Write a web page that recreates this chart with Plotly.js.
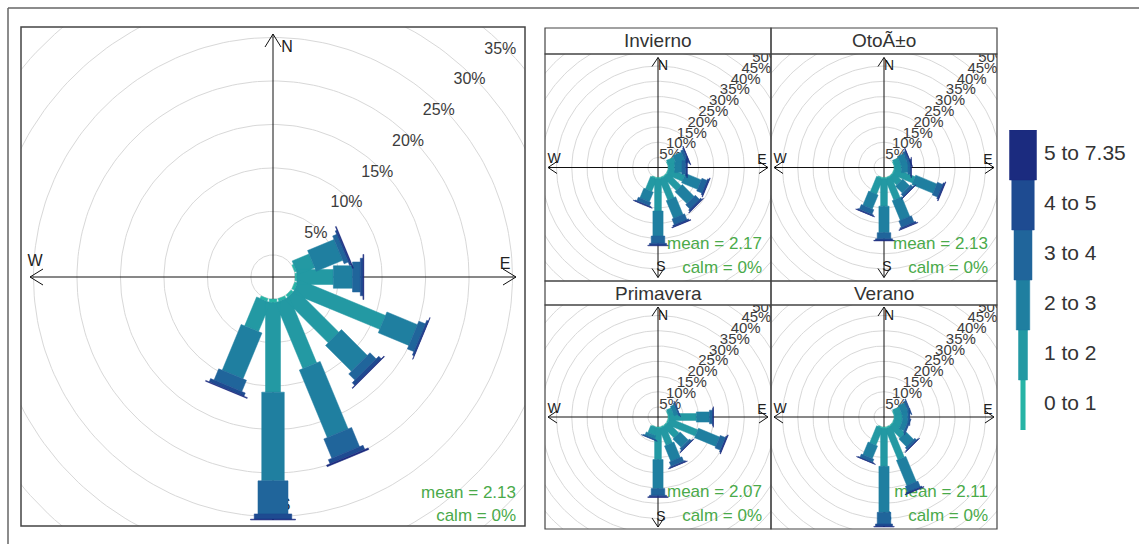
<!DOCTYPE html>
<html><head><meta charset="utf-8">
<script src="https://cdn.plot.ly/plotly-3.0.1.min.js"></script>
<style>html,body{margin:0;padding:0;background:#fff}#chart{width:1139px;height:544px}</style>
</head><body><div id="chart"></div>
<script>
// ---------------- DATA ----------------
const directions = [67.5, 90, 112.5, 135, 157.5, 180, 202.5]; // degrees from N (clockwise)
const hsClasses = ["0 to 1", "1 to 2", "2 to 3", "3 to 4", "4 to 5", "5 to 7.35"];
const classColors = ["#27b4a6", "#2399a3", "#1f7fa0", "#20659b", "#1e4b91", "#1b2b7f"];
const hsTitle = "Hs [m]";
const ringPercents = [0, 5, 10, 15, 20, 25, 30, 35, 40, 45, 50, 55, 60, 65, 70];
const dirLetters = ["N", "E", "S", "W"];

// frequency (%) rows = directions, columns = Hs classes
const freqAll = [
  [0.2, 2.1, 3.3, 0.5, 0.2, 0.1],
  [0.2, 4.2, 2.2, 0.9, 0.3, 0.1],
  [0.3, 10.8, 3.8, 0.8, 0.2, 0.05],
  [0.3, 7.0, 4.2, 1.0, 0.4, 0.1],
  [0.3, 8.2, 8.4, 2.4, 0.5, 0.2],
  [0.4, 10.3, 10.2, 3.8, 0.6, 0.1],
  [0.3, 3.6, 5.7, 1.4, 0.4, 0.1]
];
const freqInvierno = [
  [0.2, 2.5, 3.0, 0.9, 0.3, 0.1],
  [0.2, 2.0, 2.4, 1.2, 0.4, 0.1],
  [0.3, 5.5, 5.6, 1.8, 0.5, 0.2],
  [0.3, 6.0, 5.5, 1.9, 0.6, 0.2],
  [0.3, 7.5, 6.3, 2.0, 0.5, 0.2],
  [0.4, 10.6, 8.2, 2.4, 0.6, 0.2],
  [0.3, 4.5, 3.4, 1.2, 0.3, 0.1]
];
const freqOtono = [
  [0.2, 2.0, 2.2, 0.8, 0.2, 0.1],
  [0.2, 2.2, 2.2, 0.8, 0.2, 0.1],
  [0.3, 7.0, 7.5, 1.8, 0.5, 0.2],
  [0.2, 3.5, 3.2, 1.0, 0.2, 0.1],
  [0.3, 7.5, 7.0, 2.2, 0.5, 0.2],
  [0.4, 9.0, 8.7, 2.0, 0.5, 0.2],
  [0.3, 5.5, 5.0, 1.6, 0.4, 0.1]
];
const freqPrimavera = [
  [0.2, 1.6, 1.3, 0.4, 0.1, 0.0],
  [0.3, 9.0, 4.3, 1.0, 0.2, 0.1],
  [0.4, 10.0, 7.5, 1.8, 0.4, 0.2],
  [0.3, 5.0, 3.8, 0.8, 0.2, 0.1],
  [0.3, 6.0, 5.5, 1.5, 0.4, 0.1],
  [0.4, 10.3, 9.5, 2.2, 0.5, 0.2],
  [0.2, 2.5, 1.1, 0.3, 0.1, 0.0]
];
const freqVerano = [
  [0.2, 2.3, 2.2, 0.6, 0.2, 0.0],
  [0.2, 2.5, 1.8, 0.5, 0.2, 0.0],
  [0.2, 2.6, 1.7, 0.5, 0.2, 0.0],
  [0.3, 5.0, 3.5, 0.8, 0.2, 0.1],
  [0.4, 11.0, 9.0, 2.0, 0.4, 0.2],
  [0.5, 12.4, 15.1, 3.8, 0.8, 0.2],
  [0.3, 6.0, 4.5, 1.1, 0.2, 0.1]
];
const panelTitles = ["Invierno", "OtoÃ±o", "Primavera", "Verano"];
const panelMeans = ["2.17", "2.13", "2.07", "2.11"];
const panelCalms = ["0%", "0%", "0%", "0%"];
const allMean = "2.13";
const allCalm = "0%";

// ---------------- LAYOUT GEOMETRY (pixels) ----------------
const W = 1139, H = 544;
const mainBox = {x0: 21, x1: 525, y0: 27, y1: 526, cx: 273, cy: 277, axisPx: 243,
  arrowLen: 13, arrowHalf: 8, labInset: 5, pctFont: 16, letterFont: 16,
  letters: [[14, 229], [232, 12], [12, -229], [-238, 15]], meanUp: 32, calmUp: 9};
const panelBoxes = [
  {x0: 545, x1: 771, y0: 54, y1: 281},
  {x0: 771, x1: 997, y0: 54, y1: 281},
  {x0: 545, x1: 771, y0: 305, y1: 529},
  {x0: 771, x1: 997, y0: 305, y1: 529}
];
const stripBoxes = [
  {x0: 545, x1: 771, y0: 28, y1: 54},
  {x0: 771, x1: 997, y0: 28, y1: 54},
  {x0: 545, x1: 771, y0: 281, y1: 305},
  {x0: 771, x1: 997, y0: 281, y1: 305}
];
const panelStyle = {axisPx: 110, arrowLen: 9, arrowHalf: 6, labInset: 8, pctFont: 15, letterFont: 14,
  letters: [[5, 101], [104, 7], [3, -100], [-104, 8]], meanUp: 36, calmUp: 12};

const traces = [];
const layout = {
  width: W, height: H, margin: {l: 0, r: 0, t: 0, b: 0},
  paper_bgcolor: "#ffffff", plot_bgcolor: "rgba(0,0,0,0)",
  showlegend: false, shapes: [], annotations: [],
  font: {family: "Liberation Sans, Arial, sans-serif", color: "#333"}
};

function totals(f) { return f.map(r => r.reduce((a, b) => a + b, 0)); }

function setAxes(idx, box, cx, cy, ppu) {
  const xs = idx === 1 ? "xaxis" : "xaxis" + idx;
  const ys = idx === 1 ? "yaxis" : "yaxis" + idx;
  const common = {visible: false, showgrid: false, zeroline: false, fixedrange: true};
  layout[xs] = Object.assign({}, common, {
    domain: [box.x0 / W, box.x1 / W],
    range: [(box.x0 - cx) / ppu, (box.x1 - cx) / ppu]
  });
  layout[ys] = Object.assign({}, common, {
    domain: [1 - box.y1 / H, 1 - box.y0 / H],
    range: [-(box.y1 - cy) / ppu, (cy - box.y0) / ppu]
  });
}

function buildRose(freq, idx, box, cx, cy, M, st, meanTxt, calmTxt) {
  const xa = idx === 1 ? "x" : "x" + idx, ya = idx === 1 ? "y" : "y" + idx;
  const off = 0.1 * M, R = M + off;
  const ppu = st.axisPx / R;
  setAxes(idx, box, cx, cy, ppu);
  const base = {xaxis: xa, yaxis: ya, hoverinfo: "skip"};
  // rings
  const rx = [], ry = [];
  ringPercents.forEach(p => {
    const r = off + p;
    for (let k = 0; k <= 240; k++) {
      const a = k / 240 * 2 * Math.PI;
      rx.push(r * Math.cos(a)); ry.push(r * Math.sin(a));
    }
    rx.push(null); ry.push(null);
  });
  traces.push(Object.assign({type: "scatter", mode: "lines", x: rx, y: ry, connectgaps: false,
    line: {color: "#d8d8d8", width: 1}}, base));
  // axis lines with open arrow heads
  const a = st.arrowLen / ppu, h = st.arrowHalf / ppu;
  const axX = [-R, R, null, 0, 0, null, R - a, R, R - a, null, -R + a, -R, -R + a, null, -h, 0, h, null, -h, 0, h];
  const axY = [0, 0, null, -R, R, null, h, 0, -h, null, h, 0, -h, null, R - a, R, R - a, null, -R + a, -R, -R + a];
  // direction letters (under the paddles)
  traces.push(Object.assign({type: "scatter", mode: "text",
    x: st.letters.map(p => p[0] / ppu), y: st.letters.map(p => p[1] / ppu),
    text: dirLetters, textposition: "middle center", cliponaxis: true,
    textfont: {size: st.letterFont, color: "#222"}}, base));
  traces.push(Object.assign({type: "scatter", mode: "lines", x: axX, y: axY, connectgaps: false,
    line: {color: "#111", width: 1}}, base));
  // percent labels along 45 deg
  const lp = ringPercents.filter(p => p > 0);
  const lr = lp.map(p => (off + p) - st.labInset / ppu);
  traces.push(Object.assign({type: "scatter", mode: "text",
    x: lr.map(r => r * Math.SQRT1_2), y: lr.map(r => r * Math.SQRT1_2),
    text: lp.map(p => p + "%"), textposition: "middle center", cliponaxis: true,
    textfont: {size: st.pctFont, color: "#3c3c3c"}}, base));
  // mean / calm text
  const xr = layout[idx === 1 ? "xaxis" : "xaxis" + idx].range;
  const yr = layout[idx === 1 ? "yaxis" : "yaxis" + idx].range;
  traces.push(Object.assign({type: "scatter", mode: "text",
    x: [xr[1] - 9 / ppu, xr[1] - 9 / ppu],
    y: [yr[0] + st.meanUp / ppu, yr[0] + st.calmUp / ppu],
    text: ["mean = " + meanTxt, "calm = " + calmTxt], textposition: "middle left", cliponaxis: false,
    textfont: {size: 17, color: "#4aaa4a"}}, base));
  // paddles
  const c = 0.034 * M;
  hsClasses.forEach((cls, j) => {
    const px = [], py = [];
    directions.forEach((d, i) => {
      const v = freq[i][j];
      if (!(v > 0)) return;
      let start = 0;
      for (let k = 0; k < j; k++) start += freq[i][k];
      const r1 = off + start, r2 = r1 + v, hw = c * (j + 1) / 2;
      const t = d * Math.PI / 180, ux = Math.sin(t), uy = Math.cos(t), nx = Math.cos(t), ny = -Math.sin(t);
      px.push(r1 * ux + hw * nx, r2 * ux + hw * nx, r2 * ux - hw * nx, r1 * ux - hw * nx, r1 * ux + hw * nx, null);
      py.push(r1 * uy + hw * ny, r2 * uy + hw * ny, r2 * uy - hw * ny, r1 * uy - hw * ny, r1 * uy + hw * ny, null);
    });
    traces.push(Object.assign({type: "scatter", mode: "lines", x: px, y: py, fill: "toself",
      fillcolor: classColors[j], connectgaps: false, line: {color: classColors[j], width: 0.5}, name: cls}, base));
  });
}

// main rose (all data)
const Mmain = Math.max(...totals(freqAll));
buildRose(freqAll, 1, mainBox, mainBox.cx, mainBox.cy, Mmain, mainBox, allMean, allCalm);

// seasonal panels share a common scale
const panelFreqs = [freqInvierno, freqOtono, freqPrimavera, freqVerano];
const Mpanel = Math.max(...panelFreqs.map(f => Math.max(...totals(f))));
panelFreqs.forEach((f, i) => {
  const b = panelBoxes[i];
  buildRose(f, i + 2, b, (b.x0 + b.x1) / 2, (b.y0 + b.y1) / 2, Mpanel, panelStyle, panelMeans[i], panelCalms[i]);
});

// legend (paddle key) on its own axis
layout.xaxis6 = {visible: false, fixedrange: true, domain: [1000 / W, 1046 / W], range: [-23, 23]};
layout.yaxis6 = {visible: false, fixedrange: true, domain: [1 - 430 / H, 1 - 130 / H], range: [0, 6]};
hsClasses.forEach((cls, j) => {
  const hw = 4.5 * (j + 1) / 2;
  traces.push({type: "scatter", mode: "lines", xaxis: "x6", yaxis: "y6", hoverinfo: "skip",
    x: [-hw, hw, hw, -hw, -hw], y: [j, j, j + 1, j + 1, j], fill: "toself",
    fillcolor: classColors[j], line: {color: classColors[j], width: 0.5}});
});
traces.push({type: "scatter", mode: "text", xaxis: "x6", yaxis: "y6", hoverinfo: "skip", cliponaxis: false,
  x: hsClasses.map(() => 21).concat([21]),
  y: hsClasses.map((c, j) => j + 0.5).concat([-0.54]),
  text: hsClasses.concat([hsTitle]), textposition: "middle right",
  textfont: {size: 21, color: "#333"}});

// frames
function rect(x0, y0, x1, y1, col, w) {
  layout.shapes.push({type: "rect", xref: "paper", yref: "paper", x0: x0 / W, x1: x1 / W,
    y0: 1 - y1 / H, y1: 1 - y0 / H, line: {color: col, width: w}, fillcolor: "rgba(0,0,0,0)", layer: "above"});
}
function seg(x0, y0, x1, y1, col, w) {
  layout.shapes.push({type: "line", xref: "paper", yref: "paper", x0: x0 / W, x1: x1 / W,
    y0: 1 - y0 / H, y1: 1 - y1 / H, line: {color: col, width: w}, layer: "above"});
}
seg(8, 8, 8, 544, "#666", 1.5);
seg(8, 8, 1139, 8, "#666", 1.5);
rect(mainBox.x0, mainBox.y0, mainBox.x1, mainBox.y1, "#444", 1.5);
panelBoxes.forEach(b => rect(b.x0, b.y0, b.x1, b.y1, "#444", 1.2));
stripBoxes.forEach((s, i) => {
  rect(s.x0, s.y0, s.x1, s.y1, "#444", 1.2);
  layout.annotations.push({xref: "paper", yref: "paper", x: (s.x0 + s.x1) / 2 / W, y: 1 - (s.y0 + s.y1) / 2 / H,
    text: panelTitles[i], showarrow: false, xanchor: "center", yanchor: "middle",
    font: {size: 19, color: "#333"}});
});

Plotly.newPlot("chart", traces, layout, {displayModeBar: false, staticPlot: true});
</script>
</body></html>
